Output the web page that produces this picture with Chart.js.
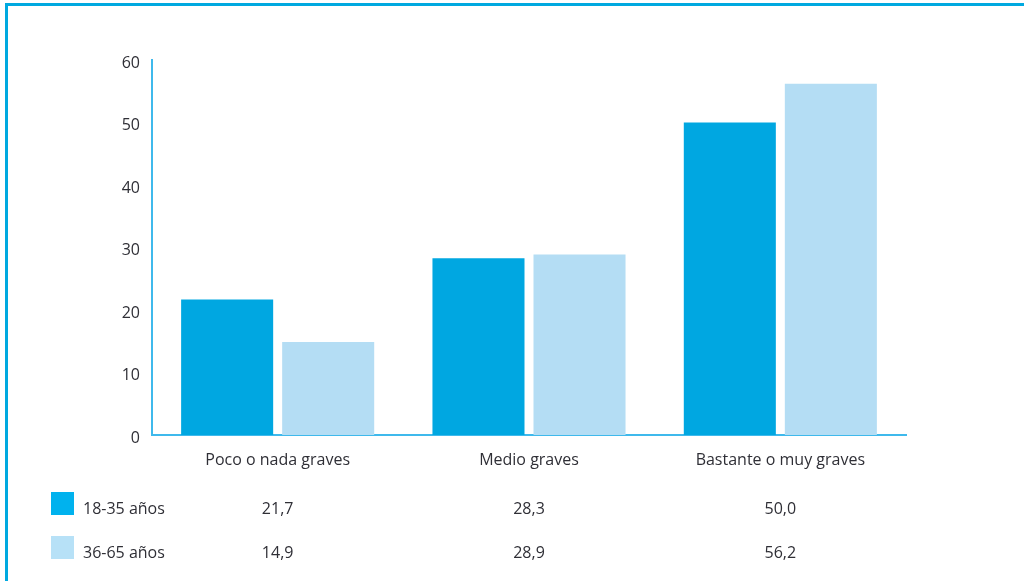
<!DOCTYPE html>
<html>
<head>
<meta charset="utf-8">
<script src="https://cdn.jsdelivr.net/npm/chart.js@4"></script>
<style>
  html, body { margin: 0; padding: 0; background: #fff; }
  #wrap { position: relative; width: 1024px; height: 581px; overflow: hidden; }
  #frame {
    position: absolute; left: 5px; top: 3px; width: 1100px; height: 700px;
    border-top: 3px solid #00a9e0; border-left: 3px solid #00a9e0;
    pointer-events: none;
  }
  canvas { position: absolute; left: 0; top: 0; }
</style>
</head>
<body>
<div id="wrap">
  <canvas id="myChart" width="1024" height="581"></canvas>
  <div id="frame"></div>
</div>
<script>
var categories = ["Poco o nada graves", "Medio graves", "Bastante o muy graves"];
var seriesNames = ["18-35 años", "36-65 años"];
var young = [21.7, 28.3, 50.0];
var older = [14.9, 28.9, 56.2];
var yTicks = [0, 10, 20, 30, 40, 50, 60];

var darkBlue = "#00a7e1";
var lightBlue = "#b4ddf4";
var axisColor = "#3fb9ec";
var textColor = "#2f2f36";
var fontFamily = "'Open Sans', Lato, sans-serif";

function fmt(v) {
  return v.toFixed(1).replace(".", ",");
}

// data table under the bars: legend swatch, series name, one value per category
var tablePlugin = {
  id: "dataTable",
  afterDraw: function (chart) {
    var ctx = chart.ctx;
    var x = chart.scales.x;
    var rows = [
      { name: seriesNames[0], values: young, color: "#00b2ee", y: 509 },
      { name: seriesNames[1], values: older, color: "#b7e1f7", y: 553 },
    ];
    ctx.save();
    ctx.font = "16px " + fontFamily;
    ctx.textBaseline = "middle";
    rows.forEach(function (row) {
      ctx.fillStyle = row.color;
      ctx.fillRect(51, row.y - 17, 23, 23);
      ctx.fillStyle = textColor;
      ctx.textAlign = "left";
      ctx.fillText(row.name, 83, row.y);
      ctx.textAlign = "center";
      row.values.forEach(function (v, i) {
        ctx.fillText(fmt(v), x.getPixelForValue(i), row.y);
      });
    });
    ctx.restore();
  },
};

new Chart("myChart", {
  type: "bar",
  data: {
    labels: categories,
    datasets: [
      {
        label: seriesNames[0],
        data: young,
        backgroundColor: darkBlue,
        barPercentage: 0.911,
        categoryPercentage: 0.804,
      },
      {
        label: seriesNames[1],
        data: older,
        backgroundColor: lightBlue,
        barPercentage: 0.911,
        categoryPercentage: 0.804,
      },
    ],
  },
  options: {
    responsive: false,
    animation: false,
    layout: {
      padding: { top: 60, right: 118, left: 0, bottom: 0 },
    },
    plugins: {
      legend: { display: false },
      title: { display: false },
      tooltip: { enabled: false },
    },
    scales: {
      x: {
        grid: { display: false },
        border: { display: true, color: axisColor, width: 2 },
        ticks: {
          color: textColor,
          padding: 8,
          font: { family: fontFamily, size: 16 },
        },
        afterFit: function (scale) {
          scale.height = 146;
        },
      },
      y: {
        min: 0,
        max: 60,
        afterBuildTicks: function (scale) {
          scale.ticks = yTicks.map(function (v) {
            return { value: v };
          });
        },
        grid: { display: false },
        border: { display: true, color: axisColor, width: 2 },
        ticks: {
          color: textColor,
          padding: 4,
          labelOffset: 3,
          font: { family: fontFamily, size: 16 },
        },
        afterFit: function (scale) {
          scale.width = 152;
        },
      },
    },
  },
  plugins: [tablePlugin],
});
</script>
</body>
</html>
